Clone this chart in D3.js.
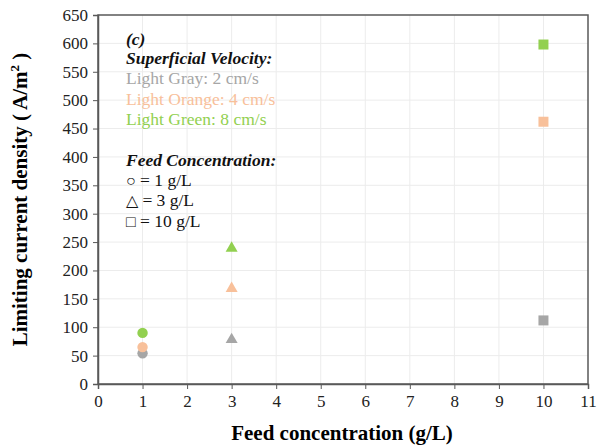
<!DOCTYPE html>
<html>
<head>
<meta charset="utf-8">
<script src="https://cdn.jsdelivr.net/npm/d3@7"></script>
<style>
  body { margin: 0; background: #fff; }
  text { font-family: "Liberation Serif", "Times New Roman", serif; }
</style>
</head>
<body>
<div id="chart"></div>
<script>
// data
const feedConc = [1, 3, 10];
const shapes = ["circle", "triangle", "square"];
const velocities = ["2 cm/s", "4 cm/s", "8 cm/s"];
const grayValues = [54, 80, 112];
const orangeValues = [65, 170, 462];
const greenValues = [90, 241, 598];
const xTicks = [0, 1, 2, 3, 4, 5, 6, 7, 8, 9, 10, 11];
const yTicks = [0, 50, 100, 150, 200, 250, 300, 350, 400, 450, 500, 550, 600, 650];

const seriesColors = ["#a6a6a6", "#f8c09a", "#92d050"];
const series = [grayValues, orangeValues, greenValues];

const W = 597, H = 447;
const margin = { top: 15, right: 9, bottom: 63, left: 98 };
const width = W - margin.left - margin.right;
const height = H - margin.top - margin.bottom;

const svg = d3.select("#chart")
    .append("svg")
    .attr("width", W)
    .attr("height", H);

const g = svg.append("g")
    .attr("transform", `translate(${margin.left},${margin.top})`);

const x = d3.scaleLinear().domain([0, 11]).range([0, width]);
const y = d3.scaleLinear().domain([0, 650]).range([height, 0]);

// grid
g.selectAll(".vgrid")
    .data(xTicks.slice(1, -1))
    .enter()
    .append("line")
    .attr("x1", (d) => x(d)).attr("x2", (d) => x(d))
    .attr("y1", 0).attr("y2", height)
    .attr("stroke", "#ececec").attr("stroke-width", 1);

g.selectAll(".hgrid")
    .data(yTicks.slice(1, -1))
    .enter()
    .append("line")
    .attr("x1", 0).attr("x2", width)
    .attr("y1", (d) => y(d)).attr("y2", (d) => y(d))
    .attr("stroke", "#ececec").attr("stroke-width", 1);

// frame
g.append("rect")
    .attr("x", 0).attr("y", 0)
    .attr("width", width).attr("height", height)
    .attr("fill", "none")
    .attr("stroke", "#595959")
    .attr("stroke-width", 1.5);

const xAxis = g.append("g")
    .attr("transform", `translate(0,${height})`)
    .call(d3.axisBottom(x).tickValues(xTicks).tickSize(5).tickPadding(6).tickFormat(d3.format("d")));

const yAxis = g.append("g")
    .call(d3.axisLeft(y).tickValues(yTicks).tickSize(5).tickPadding(5).tickFormat(d3.format("d")));

[xAxis, yAxis].forEach((ax) => {
    ax.select(".domain").attr("stroke", "#595959").attr("stroke-width", 1.5);
    ax.selectAll(".tick line").attr("stroke", "#595959");
    ax.selectAll(".tick text")
        .style("font-family", "Liberation Serif, serif")
        .style("font-size", "17px")
        .attr("fill", "#222");
});

// axis titles
svg.append("text")
    .attr("x", margin.left + width / 2 - 1)
    .attr("y", 440)
    .attr("text-anchor", "middle")
    .style("font-size", "21px")
    .style("font-weight", "bold")
    .text("Feed concentration (g/L)");

const yTitle = svg.append("text")
    .attr("transform", `translate(27,${margin.top + height / 2}) rotate(-90)`)
    .attr("text-anchor", "middle")
    .style("font-size", "21px")
    .style("font-weight", "bold");
yTitle.append("tspan").text("Limiting current density ( A/m");
yTitle.append("tspan").attr("dy", -8).style("font-size", "13px").text("2");
yTitle.append("tspan").attr("dy", 8).text(" )");

// markers
const symbolTypes = { circle: d3.symbolCircle, triangle: d3.symbolTriangle, square: d3.symbolSquare };
const symbolSizes = { circle: 85, triangle: 62, square: 100 };

series.forEach((values, si) => {
    g.selectAll(`.pt${si}`)
        .data(values.map((v, i) => ({ x: feedConc[i], y: v, shape: shapes[i] })))
        .enter()
        .append("path")
        .attr("transform", (d) => `translate(${x(d.x)},${y(d.y) + (d.shape === "triangle" ? 1 : 0)})`)
        .attr("d", (d) => d3.symbol().type(symbolTypes[d.shape]).size(symbolSizes[d.shape])())
        .attr("fill", seriesColors[si]);
});

// legend text
const legend = svg.append("g").attr("transform", "translate(126,0)");
const lineY = [45, 64, 84, 105, 125, 166, 186, 206, 227];
const fs = "17.5px";

legend.append("text").attr("y", lineY[0]).style("font-size", fs)
    .style("font-weight", "bold").style("font-style", "italic").attr("fill", "#111").text("(c)");
legend.append("text").attr("y", lineY[1]).style("font-size", fs)
    .style("font-weight", "bold").style("font-style", "italic").attr("fill", "#111").text("Superficial Velocity:");

["Light Gray", "Light Orange", "Light Green"].forEach((name, i) => {
    legend.append("text").attr("y", lineY[2 + i]).style("font-size", fs)
        .attr("fill", seriesColors[i]).text(`${name}: ${velocities[i]}`);
});

legend.append("text").attr("y", lineY[5]).style("font-size", fs)
    .style("font-weight", "bold").style("font-style", "italic").attr("fill", "#111").text("Feed Concentration:");

["○", "△", "□"].forEach((sym, i) => {
    const t = legend.append("text").attr("y", lineY[6 + i]).style("font-size", fs).attr("fill", "#111");
    t.append("tspan").style("font-size", "16px").text(sym);
    t.append("tspan").text(` = ${feedConc[i]} g/L`);
});
</script>
</body>
</html>
